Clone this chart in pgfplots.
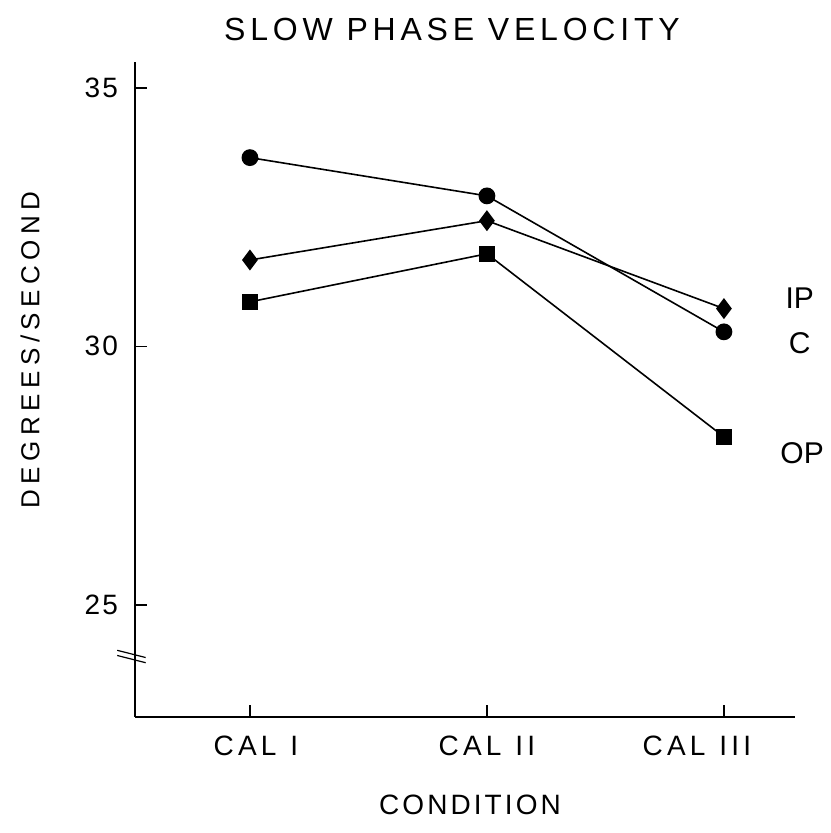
\documentclass[border=0pt]{standalone}
\usepackage{pgfplots}
\pgfplotsset{compat=1.18}
\usepackage{fontspec}
\setmainfont{Liberation Sans}
% wide letter spacing, like the typed lettering of the original
\newfontfamily\titlefont[LetterSpace=15]{Liberation Sans}
\newfontfamily\ylabfont[LetterSpace=21]{Liberation Sans}
\newfontfamily\calfont[LetterSpace=15]{Liberation Sans}
\newfontfamily\xlabfont[LetterSpace=11]{Liberation Sans}

\begin{document}
\begin{tikzpicture}
	\begin{axis}[
		at={(0,0)}, anchor=south west,
		scale only axis,
		width=330pt, height=327.5pt,
		xmin=-0.485, xmax=2.3,
		ymin=22.83, ymax=35.5,
		axis x line*=bottom,
		axis y line*=left,
		axis line style={line width=0.8pt, -},
		xtick={0,1,2},
		xticklabels={\hspace*{6pt}CAL\hspace*{7pt}I,
			CAL\hspace*{7pt}II,
			CAL\hspace*{7pt}III\hspace*{27pt}},
		ytick={25,30,35},
		tick align=inside,
		major tick length=6pt,
		tick style={line width=0.8pt, black},
		/pgf/number format/assume math mode=true,
		yticklabel style={font=\fontsize{14}{16}\selectfont\addfontfeatures{LetterSpace=8}, xshift=-5pt},
		xticklabel style={font=\fontsize{14}{16}\calfont, yshift=-6pt},
		clip=false,
		]
		% C
		\addplot[black, line width=0.8pt, mark=*, mark size=3.8pt]
			coordinates {(0,33.65) (1,32.91) (2,30.28)};
		% IP
		\addplot[black, line width=0.8pt, mark=diamond*, mark size=4.6pt]
			coordinates {(0,31.67) (1,32.43) (2,30.73)};
		% OP
		\addplot[black, line width=0.8pt, mark=square*, mark size=3.6pt]
			coordinates {(0,30.86) (1,31.79) (2,28.25)};

		\node[font=\fontsize{15}{17}\selectfont] at (axis cs:2.32,30.94) {IP};
		\node[font=\fontsize{15}{17}\selectfont] at (axis cs:2.32,30.07) {C};
		\node[font=\fontsize{15}{17}\selectfont] at (axis cs:2.33,27.94) {OP};

		% axis break
		\draw[line width=0.6pt] (axis cs:-0.56,24.12) -- (axis cs:-0.44,23.98);
		\draw[line width=0.6pt] (axis cs:-0.56,24.02) -- (axis cs:-0.44,23.88);
	\end{axis}
	\node[font=\fontsize{16}{18}\titlefont] at (158.5pt,343.5pt) {SLOW PHASE VELOCITY};
	\node[font=\fontsize{13}{15}\ylabfont, rotate=90] at (-52.5pt,183.5pt) {DEGREES/SECOND};
	\node[font=\fontsize{14}{16}\xlabfont] at (167.5pt,-44pt) {CONDITION};
	\path[use as bounding box] (-67.5pt,-58pt) rectangle (347.5pt,358.5pt);
\end{tikzpicture}
\end{document}
